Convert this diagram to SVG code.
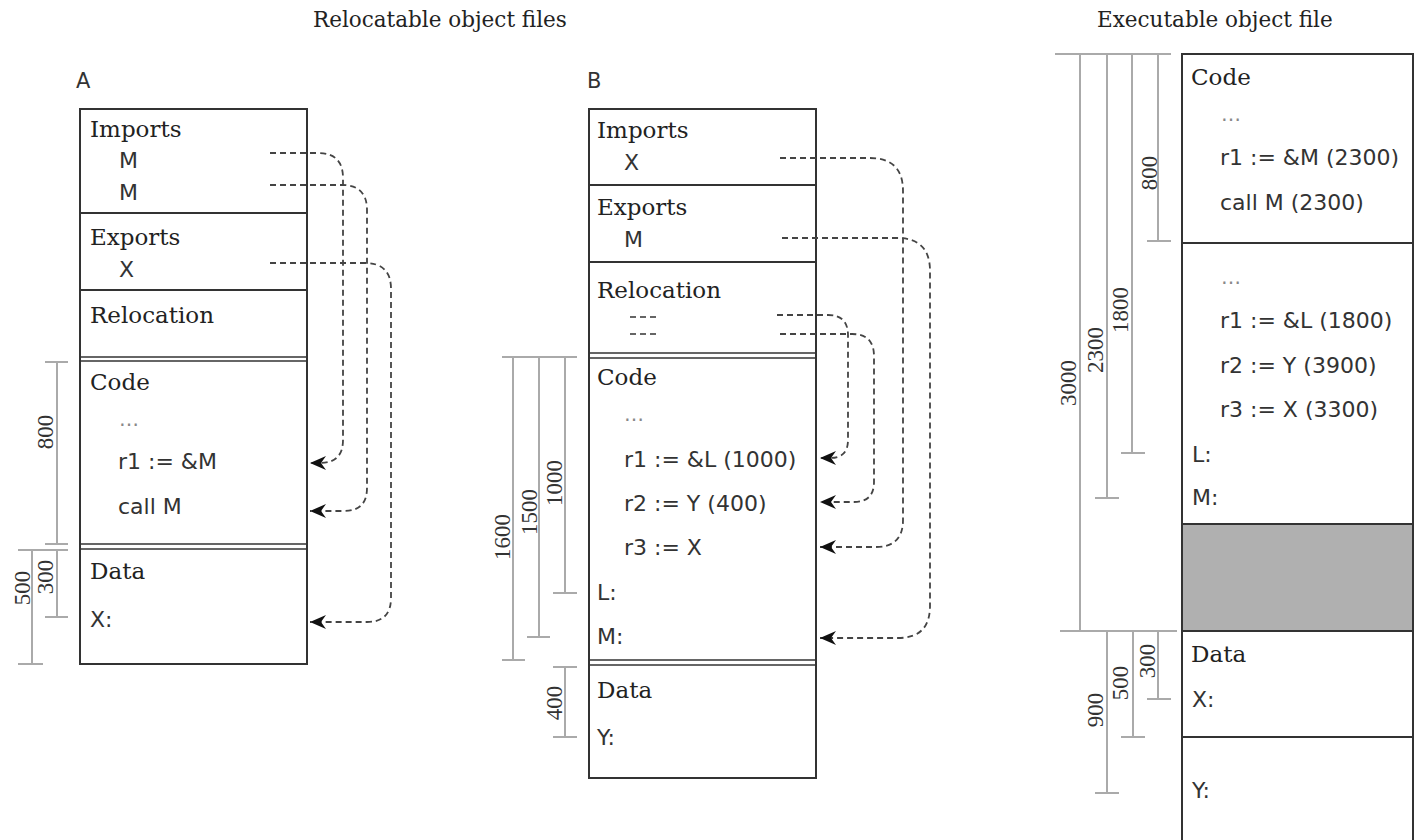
<svg xmlns="http://www.w3.org/2000/svg" width="1419" height="840" viewBox="0 0 1419 840">
<style>
.bg{fill:#fff}
.box{fill:none;stroke:#333;stroke-width:2}
.div{stroke:#333;stroke-width:2}
.dbl{stroke:#333;stroke-width:1.6}
.dim{stroke:#aaa;stroke-width:2;fill:none}
.con{fill:none;stroke:#444;stroke-width:1.8;stroke-dasharray:6 4}
.ttl{font-family:"DejaVu Serif","Liberation Serif",serif;font-size:21.5px;fill:#222}
.hd{font-family:"DejaVu Serif","Liberation Serif",serif;font-size:23px;fill:#222}
.sn{font-family:"DejaVu Sans","Liberation Sans",sans-serif;font-size:22px;fill:#333}
.lbl{font-family:"DejaVu Sans","Liberation Sans",sans-serif;font-size:21px;fill:#333}
.dl{font-family:"Liberation Serif",serif;font-size:23px;fill:#333;text-anchor:middle}
.ell{font-family:"DejaVu Sans",sans-serif;font-size:20px;fill:#888}
</style>
<defs>
<marker id="ah" markerUnits="userSpaceOnUse" markerWidth="20" markerHeight="16" refX="16" refY="8" orient="auto" overflow="visible">
<path d="M16,8 L0,1 L5,8 L0,15 Z" fill="#111"/>
</marker>
</defs>
<rect class="bg" x="0" y="0" width="1419" height="840"/>

<text class="ttl" x="313" y="27">Relocatable object files</text>
<text class="ttl" x="1097" y="27">Executable object file</text>

<g id="fileA">
<text class="lbl" x="76" y="88">A</text>
<rect class="box" x="80" y="109" width="227" height="555"/>
<line class="div" x1="80" y1="213" x2="307" y2="213"/>
<line class="div" x1="80" y1="290" x2="307" y2="290"/>
<line class="dbl" x1="80" y1="357" x2="307" y2="357"/>
<line class="dbl" x1="80" y1="361" x2="307" y2="361"/>
<line class="dbl" x1="80" y1="544" x2="307" y2="544"/>
<line class="dbl" x1="80" y1="549" x2="307" y2="549"/>
<text class="hd" x="90" y="137">Imports</text>
<text class="sn" x="119" y="168">M</text>
<text class="sn" x="119" y="200">M</text>
<text class="hd" x="90" y="245">Exports</text>
<text class="sn" x="119" y="277">X</text>
<text class="hd" x="90" y="323">Relocation</text>
<text class="hd" x="90" y="390">Code</text>
<text class="ell" x="119" y="426">…</text>
<text class="sn" x="118" y="469">r1 := &amp;M</text>
<text class="sn" x="118" y="514">call M</text>
<text class="hd" x="90" y="579">Data</text>
<text class="sn" x="90" y="627">X:</text>
</g>

<g id="dimsA">
<line class="dim" x1="45" y1="362" x2="68" y2="362"/>
<line class="dim" x1="57" y1="362" x2="57" y2="544"/>
<line class="dim" x1="45" y1="544" x2="68" y2="544"/>
<line class="dim" x1="18" y1="550" x2="68" y2="550"/>
<line class="dim" x1="57" y1="550" x2="57" y2="617"/>
<line class="dim" x1="45" y1="617" x2="68" y2="617"/>
<line class="dim" x1="32" y1="550" x2="32" y2="664"/>
<line class="dim" x1="18" y1="664" x2="43" y2="664"/>
<text class="dl" transform="translate(53,432) rotate(-90)">800</text>
<text class="dl" transform="translate(53,577) rotate(-90)">300</text>
<text class="dl" transform="translate(30,588) rotate(-90)">500</text>
</g>

<g id="fileB">
<text class="lbl" x="587" y="88">B</text>
<rect class="box" x="589" y="109" width="227" height="669"/>
<line class="div" x1="589" y1="185" x2="816" y2="185"/>
<line class="div" x1="589" y1="262" x2="816" y2="262"/>
<line class="dbl" x1="589" y1="353" x2="816" y2="353"/>
<line class="dbl" x1="589" y1="358" x2="816" y2="358"/>
<line class="dbl" x1="589" y1="660" x2="816" y2="660"/>
<line class="dbl" x1="589" y1="665" x2="816" y2="665"/>
<text class="hd" x="597" y="138">Imports</text>
<text class="sn" x="624" y="170">X</text>
<text class="hd" x="597" y="215">Exports</text>
<text class="sn" x="624" y="247">M</text>
<text class="hd" x="597" y="298">Relocation</text>
<line class="dbl" x1="630" y1="317" x2="658" y2="317" stroke-dasharray="6 4" stroke="#666"/>
<line class="dbl" x1="630" y1="334" x2="658" y2="334" stroke-dasharray="6 4" stroke="#666"/>
<text class="hd" x="597" y="385">Code</text>
<text class="ell" x="624" y="421">…</text>
<text class="sn" x="624" y="467">r1 := &amp;L (1000)</text>
<text class="sn" x="624" y="511">r2 := Y (400)</text>
<text class="sn" x="624" y="555">r3 := X</text>
<text class="sn" x="597" y="600">L:</text>
<text class="sn" x="597" y="644">M:</text>
<text class="hd" x="597" y="698">Data</text>
<text class="sn" x="597" y="745">Y:</text>
</g>

<g id="dimsB">
<line class="dim" x1="502" y1="357" x2="577" y2="357"/>
<line class="dim" x1="513" y1="357" x2="513" y2="660"/>
<line class="dim" x1="502" y1="660" x2="525" y2="660"/>
<line class="dim" x1="539" y1="357" x2="539" y2="637"/>
<line class="dim" x1="527" y1="637" x2="550" y2="637"/>
<line class="dim" x1="565" y1="357" x2="565" y2="593"/>
<line class="dim" x1="553" y1="593" x2="577" y2="593"/>
<line class="dim" x1="553" y1="667" x2="577" y2="667"/>
<line class="dim" x1="565" y1="667" x2="565" y2="737"/>
<line class="dim" x1="553" y1="737" x2="577" y2="737"/>
<text class="dl" transform="translate(510,537) rotate(-90)">1600</text>
<text class="dl" transform="translate(537,512) rotate(-90)">1500</text>
<text class="dl" transform="translate(562,483) rotate(-90)">1000</text>
<text class="dl" transform="translate(562,703) rotate(-90)">400</text>
</g>

<g id="exec">
<rect x="1182" y="524" width="231" height="107" fill="#b0b0b0"/>
<rect class="box" x="1182" y="54" width="231" height="800"/>
<line class="div" x1="1182" y1="243" x2="1413" y2="243"/>
<line class="div" x1="1182" y1="524" x2="1413" y2="524"/>
<line class="div" x1="1182" y1="631" x2="1413" y2="631"/>
<line class="div" x1="1182" y1="737" x2="1413" y2="737"/>
<text class="hd" x="1191" y="85">Code</text>
<text class="ell" x="1221" y="121">…</text>
<text class="sn" x="1220" y="165">r1 := &amp;M (2300)</text>
<text class="sn" x="1220" y="210">call M (2300)</text>
<text class="ell" x="1221" y="284">…</text>
<text class="sn" x="1220" y="328">r1 := &amp;L (1800)</text>
<text class="sn" x="1220" y="373">r2 := Y (3900)</text>
<text class="sn" x="1220" y="417">r3 := X (3300)</text>
<text class="sn" x="1192" y="462">L:</text>
<text class="sn" x="1192" y="505">M:</text>
<text class="hd" x="1191" y="662">Data</text>
<text class="sn" x="1192" y="707">X:</text>
<text class="sn" x="1192" y="798">Y:</text>
</g>

<g id="dimsExec">
<line class="dim" x1="1055" y1="54" x2="1171" y2="54"/>
<line class="dim" x1="1080" y1="54" x2="1080" y2="631"/>
<line class="dim" x1="1107" y1="54" x2="1107" y2="498"/>
<line class="dim" x1="1095" y1="498" x2="1119" y2="498"/>
<line class="dim" x1="1132" y1="54" x2="1132" y2="453"/>
<line class="dim" x1="1121" y1="453" x2="1145" y2="453"/>
<line class="dim" x1="1158" y1="54" x2="1158" y2="241"/>
<line class="dim" x1="1147" y1="241" x2="1171" y2="241"/>
<line class="dim" x1="1060" y1="631" x2="1177" y2="631"/>
<line class="dim" x1="1158" y1="631" x2="1158" y2="699"/>
<line class="dim" x1="1147" y1="699" x2="1171" y2="699"/>
<line class="dim" x1="1133" y1="631" x2="1133" y2="737"/>
<line class="dim" x1="1121" y1="737" x2="1145" y2="737"/>
<line class="dim" x1="1107" y1="631" x2="1107" y2="793"/>
<line class="dim" x1="1095" y1="793" x2="1119" y2="793"/>
<text class="dl" transform="translate(1157,173) rotate(-90)">800</text>
<text class="dl" transform="translate(1128,310) rotate(-90)">1800</text>
<text class="dl" transform="translate(1103,350) rotate(-90)">2300</text>
<text class="dl" transform="translate(1076,383) rotate(-90)">3000</text>
<text class="dl" transform="translate(1155,661) rotate(-90)">300</text>
<text class="dl" transform="translate(1128,683) rotate(-90)">500</text>
<text class="dl" transform="translate(1103,710) rotate(-90)">900</text>
</g>

<g id="connectors">
<path class="con" marker-end="url(#ah)" d="M270,153 H318 Q343,153 343,178 V440 Q343,463 320,463 H310"/>
<path class="con" marker-end="url(#ah)" d="M270,185 H342 Q367,185 367,210 V488 Q367,511 344,511 H310"/>
<path class="con" marker-end="url(#ah)" d="M270,263 H365 Q391,263 391,289 V598 Q391,622 367,622 H310"/>
<path class="con" marker-end="url(#ah)" d="M780,158 H870 Q903,158 903,191 V520 Q903,547 876,547 H820"/>
<path class="con" marker-end="url(#ah)" d="M782,238 H897 Q930,238 930,271 V606 Q930,638 898,638 H820"/>
<path class="con" marker-end="url(#ah)" d="M777,315 H828 Q848,315 848,335 V440 Q848,458 830,458 H820"/>
<path class="con" marker-end="url(#ah)" d="M780,334 H852 Q874,334 874,356 V482 Q874,502 854,502 H820"/>
</g>
</svg>
